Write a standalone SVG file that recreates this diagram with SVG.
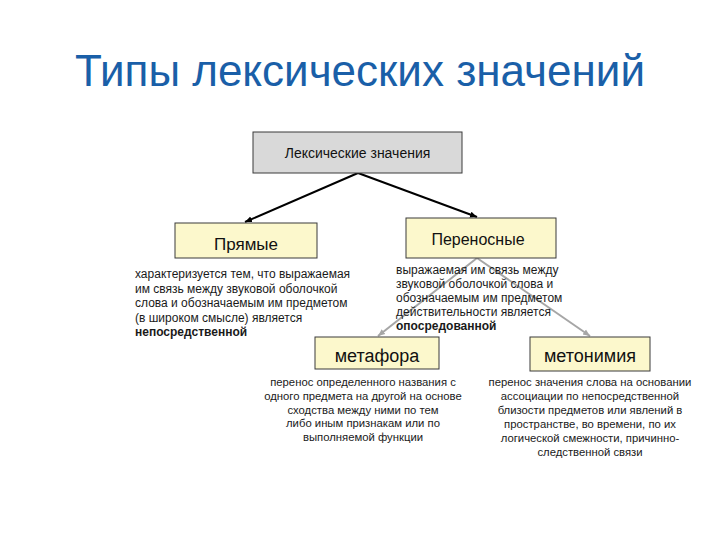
<svg xmlns="http://www.w3.org/2000/svg" width="720" height="540" viewBox="0 0 720 540">
<style>
.title{font-family:"Liberation Sans",Arial,sans-serif;font-size:44px;fill:#1a5fa8}
.box{fill:#fcf8cc;stroke:#3a3a3a;stroke-width:1}
.gbox{fill:#d9d9d9;stroke:#3a3a3a;stroke-width:1}
.lbl{font-family:"Liberation Sans",Arial,sans-serif;fill:#111;text-anchor:middle}
.desc{font-family:"Liberation Sans",Arial,sans-serif;font-size:12px;fill:#1a1a1a}
.dc{text-anchor:middle;font-size:11.3px}
.b{font-weight:bold}
.blk{stroke:#000;stroke-width:2;fill:none}
.gry{stroke:#a6a6a6;stroke-width:2;fill:none}
</style>
<defs>
<marker id="ab" markerWidth="8" markerHeight="8" refX="7" refY="4" orient="auto" markerUnits="userSpaceOnUse">
<path d="M0,1 L7,4 L0,7 z" fill="#000"/>
</marker>
<marker id="ag" markerWidth="8" markerHeight="8" refX="7" refY="4" orient="auto" markerUnits="userSpaceOnUse">
<path d="M0,1 L7,4 L0,7 z" fill="#a6a6a6"/>
</marker>
</defs>
<rect width="720" height="540" fill="#fff"/>
<text class="title" x="360" y="86" text-anchor="middle">Типы лексических значений</text>

<g id="connectors">
<line class="blk" x1="358" y1="173" x2="245" y2="222" marker-end="url(#ab)"/>
<line class="blk" x1="358" y1="173" x2="477" y2="217" marker-end="url(#ab)"/>
<line class="gry" x1="477" y1="258" x2="378" y2="336" marker-end="url(#ag)"/>
<line class="gry" x1="477" y1="258" x2="590" y2="336" marker-end="url(#ag)"/>
</g>

<g id="root">
<rect class="gbox" x="253" y="132" width="209" height="41"/>
<text class="lbl" x="357.5" y="158" font-size="14">Лексические значения</text>
</g>

<g id="pryamye">
<rect class="box" x="175" y="223" width="142" height="35"/>
<text class="lbl" x="246" y="250" font-size="17">Прямые</text>
<text class="desc" x="135" y="278">характеризуется тем, что выражаемая</text>
<text class="desc" x="135" y="293">им связь между звуковой оболочкой</text>
<text class="desc" x="135" y="307">слова и обозначаемым им предметом</text>
<text class="desc" x="135" y="322">(в широком смысле) является</text>
<text class="desc b" x="135" y="336">непосредственной</text>
</g>

<g id="perenosnye">
<rect class="box" x="406" y="218" width="150" height="40"/>
<text class="lbl" x="478" y="245" font-size="16">Переносные</text>
<text class="desc" x="396" y="274">выражаемая им связь между</text>
<text class="desc" x="396" y="288">звуковой оболочкой слова и</text>
<text class="desc" x="396" y="302">обозначаемым им предметом</text>
<text class="desc" x="396" y="316">действительности является</text>
<text class="desc b" x="396" y="330">опосредованной</text>
</g>

<g id="metafora">
<rect class="box" x="315" y="337" width="124" height="32"/>
<text class="lbl" x="377" y="362" font-size="18">метафора</text>
<text class="desc dc" x="363" y="386">перенос определенного названия с</text>
<text class="desc dc" x="363" y="400">одного предмета на другой на основе</text>
<text class="desc dc" x="363" y="414">сходства между ними по тем</text>
<text class="desc dc" x="363" y="427">либо иным признакам или по</text>
<text class="desc dc" x="363" y="441">выполняемой функции</text>
</g>

<g id="metonimiya">
<rect class="box" x="530" y="337" width="120" height="34"/>
<text class="lbl" x="590" y="362" font-size="18">метонимия</text>
<text class="desc dc" x="590" y="386">перенос значения слова на основании</text>
<text class="desc dc" x="590" y="400">ассоциации по непосредственной</text>
<text class="desc dc" x="590" y="414">близости предметов или явлений в</text>
<text class="desc dc" x="590" y="428">пространстве, во времени, по их</text>
<text class="desc dc" x="590" y="442">логической смежности, причинно-</text>
<text class="desc dc" x="590" y="456">следственной связи</text>
</g>
</svg>
